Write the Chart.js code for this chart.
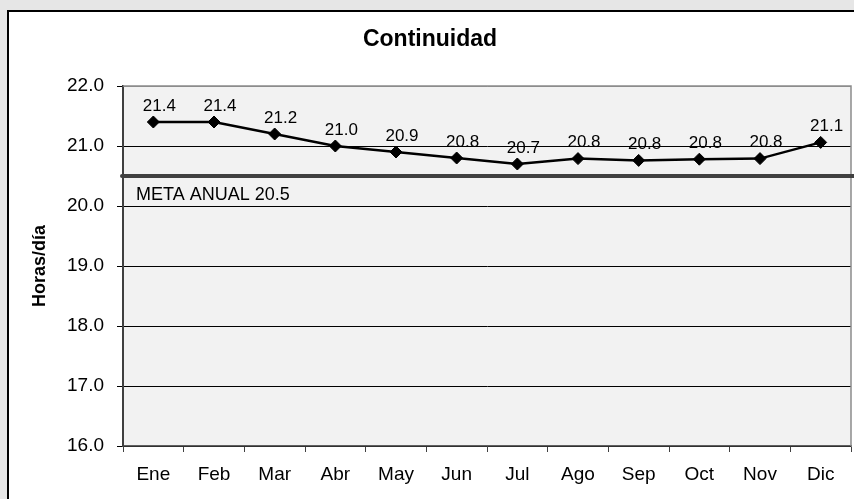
<!DOCTYPE html>
<html>
<head>
<meta charset="utf-8">
<script src="https://cdn.jsdelivr.net/npm/chart.js@4/dist/chart.umd.min.js"></script>
<style>
  html, body { margin: 0; padding: 0; width: 854px; height: 499px; overflow: hidden; background: #e6e6e6; }
  #caja { position: absolute; left: 7px; top: 10px; width: 900px; height: 600px; background: #fff;
          border-left: 2px solid #000; border-top: 2px solid #000; }
  #grafico { position: absolute; left: 0; top: 0; }
</style>
</head>
<body>
<div id="caja"><canvas id="grafico" width="854" height="487"></canvas></div>
<script>
// Meses del eje X
let meses = ['Ene', 'Feb', 'Mar', 'Abr', 'May', 'Jun', 'Jul', 'Ago', 'Sep', 'Oct', 'Nov', 'Dic'];
// Horas/día de continuidad por mes
let horas = [21.4, 21.4, 21.2, 21.0, 20.9, 20.8, 20.7, 20.79, 20.76, 20.78, 20.79, 21.06];
// Meta anual
let metaAnual = 20.5;
let textoMeta = 'META ANUAL 20.5';
// Rango del eje Y
let ejeYMin = 16, ejeYMax = 22, ejeYPaso = 1;

const fuente = 'Arial, "Liberation Sans", sans-serif';

// Fondo del área de trazado, borde, línea de meta y etiquetas de datos
const extras = {
  id: 'extras',
  beforeDraw(chart) {
    const {ctx, chartArea: a} = chart;
    ctx.save();
    ctx.fillStyle = '#f2f2f2';
    ctx.fillRect(a.left, a.top, a.right - a.left, a.bottom - a.top);
    ctx.restore();
  },
  beforeDatasetsDraw(chart) {
    const {ctx, chartArea: a, scales} = chart;
    ctx.save();
    // borde superior y derecho
    ctx.strokeStyle = '#8c8c8c';
    ctx.lineWidth = 1.5;
    ctx.beginPath();
    ctx.moveTo(a.left, a.top);
    ctx.lineTo(a.right, a.top);
    ctx.lineTo(a.right, a.bottom);
    ctx.stroke();
    // línea de meta
    const y = scales.y.getPixelForValue(metaAnual);
    ctx.strokeStyle = '#404040';
    ctx.lineWidth = 4;
    ctx.lineCap = 'round';
    ctx.beginPath();
    ctx.moveTo(a.left - 1, y);
    ctx.lineTo(chart.width, y);
    ctx.stroke();
    ctx.fillStyle = '#000';
    ctx.font = '18px ' + fuente;
    ctx.textAlign = 'left';
    ctx.textBaseline = 'middle';
    ctx.fillText(textoMeta, a.left + 13, y + 19);
    ctx.restore();
  },
  afterDatasetsDraw(chart) {
    const {ctx} = chart;
    const meta = chart.getDatasetMeta(0);
    ctx.save();
    ctx.fillStyle = '#000';
    ctx.font = '17px ' + fuente;
    ctx.textAlign = 'center';
    ctx.textBaseline = 'middle';
    meta.data.forEach((p, i) => {
      ctx.fillText(horas[i].toFixed(1), p.x + 6, p.y - 16);
    });
    ctx.restore();
  }
};

Chart.defaults.font.family = fuente;
Chart.defaults.color = '#000';

let graficoContinuidad = new Chart(document.getElementById('grafico').getContext('2d'), {
  type: 'line',
  data: {
    labels: meses,
    datasets: [{
      data: horas,
      borderColor: '#000',
      borderWidth: 2.5,
      pointStyle: 'rectRot',
      pointRadius: 6,
      pointBackgroundColor: '#000',
      pointBorderColor: '#000',
      pointBorderWidth: 1,
      tension: 0
    }]
  },
  options: {
    responsive: false,
    animation: false,
    devicePixelRatio: 1,
    layout: { padding: { left: 0, right: 12, top: 0, bottom: 0 } },
    plugins: {
      legend: { display: false },
      tooltip: { enabled: false },
      title: {
        display: true,
        text: 'Continuidad',
        color: '#000',
        font: { size: 23, weight: 'bold' },
        padding: { top: 14.2, bottom: 32.2 }
      }
    },
    scales: {
      x: {
        offset: true,
        grid: { offset: true, drawOnChartArea: false, drawTicks: true, tickLength: 6, color: '#404040' },
        border: { color: '#606060', width: 1.5 },
        ticks: { font: { size: 19 }, padding: 11.6, maxRotation: 0 },
        afterFit(s) { s.height = 53; }
      },
      y: {
        min: ejeYMin,
        max: ejeYMax,
        grid: {
          color: c => (c.tick && c.tick.value === ejeYMax) ? '#8c8c8c' : '#000',
          tickColor: '#000',
          tickLength: 6,
          lineWidth: 1
        },
        border: { color: '#404040', width: 2 },
        ticks: {
          stepSize: ejeYPaso,
          font: { size: 19 },
          padding: 13,
          callback: v => v.toFixed(1)
        },
        title: {
          display: true,
          text: 'Horas/día',
          color: '#000',
          font: { size: 18, weight: 'bold' },
          padding: { top: 20.2, bottom: 0 }
        },
        afterFit(s) { s.width = 114; }
      }
    }
  },
  plugins: [extras]
});
</script>
</body>
</html>
